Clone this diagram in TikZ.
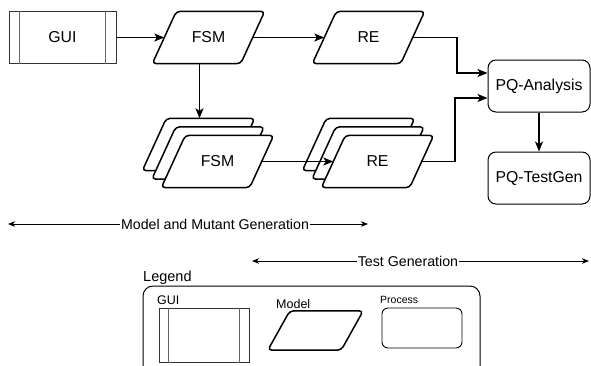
\documentclass[tikz,border=0pt]{standalone}
\usepackage{fontspec}
\setmainfont{Liberation Sans}
\usetikzlibrary{arrows.meta,calc}
\pgfdeclarelayer{bg}
\pgfsetlayers{bg,main}
\newcommand\paral[2]{\begin{pgfonlayer}{bg}\path[modelline] ([xshift=#2]#1.north west) -- ([xshift=#2]#1.north east) -- ([xshift=-#2]#1.south east) -- ([xshift=-#2]#1.south west) -- cycle;\end{pgfonlayer}}
\newcommand\guibars[2]{\draw[guibar] ([xshift=#2]#1.north west) -- ([xshift=#2]#1.south west); \draw[guibar] ([xshift=-#2]#1.north east) -- ([xshift=-#2]#1.south east);}
\tikzset{
  conn/.style={line width=1.5pt, -{Stealth[length=10pt,width=8pt,inset=2.5pt]}},
  span/.style={line width=0.9pt, -{Stealth[length=7pt,width=5.5pt,inset=2pt]}},
  modelnode/.style={minimum width=88pt, minimum height=52pt, inner sep=0pt, font=\fontsize{15.8}{18}\selectfont},
  modelline/.style={draw=black, line width=1.5pt, fill=white, rounded corners=4pt},
  procnode/.style={draw=black, line width=1pt, rounded corners=8pt, minimum width=102pt, minimum height=52pt, inner sep=0pt, font=\fontsize{15.8}{18}\selectfont},
  guinode/.style={draw=black!80, line width=1pt, minimum width=107pt, minimum height=52pt, inner sep=0pt, font=\fontsize{15.8}{18}\selectfont},
  guibar/.style={draw=black!60, line width=1pt},
  spanlabel/.style={fill=white, inner sep=1pt, font=\fontsize{14.2}{16}\selectfont},
  leglabel/.style={inner sep=0pt, anchor=base west, font=\fontsize{12.5}{14}\selectfont},
}
\begin{document}
\begin{tikzpicture}[x=1pt,y=-1pt]
\useasboundingbox (0,0) rectangle (591,365);
\clip (0,0) rectangle (591,365);
% top row
\node[guinode] (gui) at (62.5,37.5) {GUI};
\guibars{gui}{11pt}
\node[modelnode] (fsm1) at (208.5,37.5) {FSM};
\paral{fsm1}{12pt}
\node[modelnode] (re1) at (368.5,37.5) {RE};
\paral{re1}{12pt}
% FSM stack
\node[modelnode] (fsmb2) at (198.5,144.5) {};
\paral{fsmb2}{12pt}
\node[modelnode] (fsmb1) at (208,153) {};
\paral{fsmb1}{12pt}
\node[modelnode] (fsm2) at (217.5,161.5) {FSM};
\paral{fsm2}{12pt}
% RE stack
\node[modelnode] (reb2) at (358.5,144.5) {};
\paral{reb2}{12pt}
\node[modelnode] (reb1) at (368,153) {};
\paral{reb1}{12pt}
\node[modelnode] (re2) at (377.5,161.5) {RE};
\paral{re2}{12pt}
% processes
\node[procnode] (pqa) at (539,86) {PQ-Analysis};
\node[procnode] (pqt) at (539,178) {PQ-TestGen};
% connectors
\draw[conn] (gui.east) -- (fsm1.west);
\draw[conn] (fsm1.east) -- (re1.west);
\draw[conn] ([xshift=-9pt]fsm1.south) -- ([xshift=-9pt]fsm1.south |- fsmb2.north);
\draw[conn] (fsm2.east) -- (re2.west);
\draw[conn] (re1.east) -- (457,37.5) |- ([yshift=13pt]pqa.west);
\draw[conn] (re2.east) -- (455,161.5) |- ([yshift=-12pt]pqa.west);
\draw[conn] (pqa.south) -- (pqt.north);
% spans
\node[spanlabel] (mm) at (215,224) {Model and Mutant Generation};
\coordinate (mmL) at (8,224);
\coordinate (mmR) at (368,224);
\draw[span] (mm.west) -- (mmL);
\draw[span] (mm.east) -- (mmR);
\node[spanlabel] (tg) at (408,261) {Test Generation};
\coordinate (tgL) at (252,261);
\coordinate (tgR) at (589,261);
\draw[span] (tg.west) -- (tgL);
\draw[span] (tg.east) -- (tgR);
% legend
\node[inner sep=0pt, anchor=base west, font=\fontsize{14.5}{16}\selectfont] (legtitle) at (143,281) {Legend};
\node[draw=black, line width=1pt, rounded corners=10pt, minimum width=337pt, minimum height=94pt, inner sep=0pt] (legend) at (311.5,333) {};
\node[leglabel] (lgui) at (157,304) {GUI};
\node[draw=black!80, line width=1pt, minimum width=90pt, minimum height=54pt, inner sep=0pt] (lguibox) at (204,335) {};
\guibars{lguibox}{10pt}
\node[leglabel] (lmodel) at (276,308) {Model};
\node[minimum width=73pt, minimum height=39pt, inner sep=0pt] (lmodelbox) at (315.5,330.5) {};
\paral{lmodelbox}{11pt}
\node[leglabel, font=\fontsize{10.5}{12}\selectfont] (lproc) at (380,303) {Process};
\node[draw=black, line width=0.9pt, rounded corners=6pt, minimum width=80pt, minimum height=40pt, inner sep=0pt] (lprocbox) at (422,328) {};
\end{tikzpicture}
\end{document}
